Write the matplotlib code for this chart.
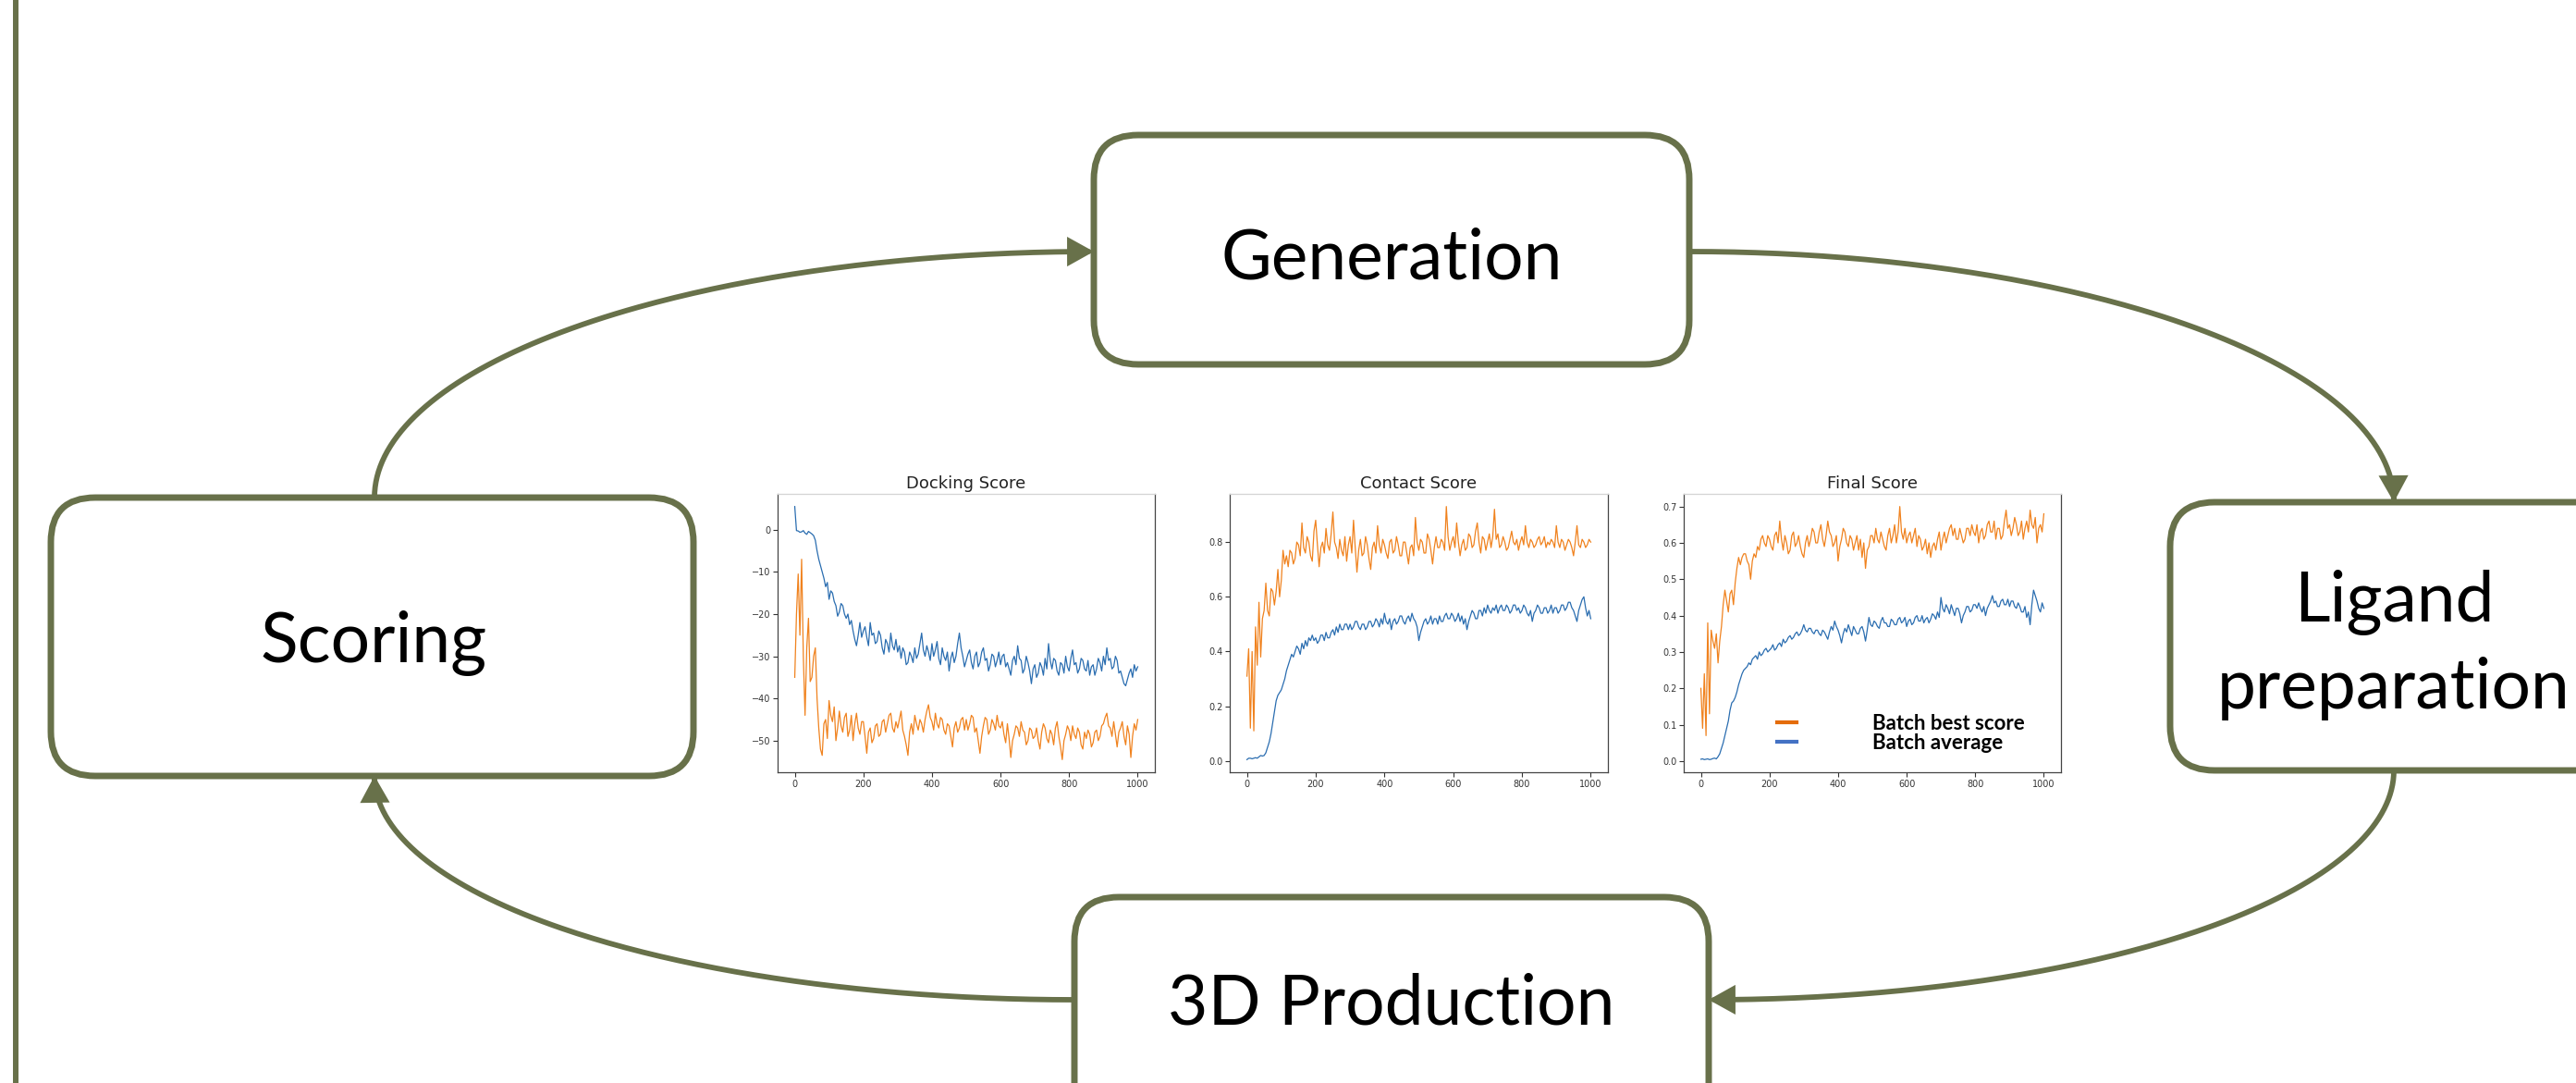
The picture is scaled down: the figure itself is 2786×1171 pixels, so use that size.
import numpy as np
import matplotlib.pyplot as plt
from matplotlib.patches import FancyBboxPatch, FancyArrowPatch
from matplotlib.path import Path
from matplotlib.lines import Line2D

W, H = 2786, 1171
OLIVE = '#68714a'
ORANGE = '#f0821e'
BLUE = '#2a6db0'

# ---- data (one value every 5 steps) ----
steps = np.arange(0, 1001, 5)

docking_avg = [
    5.5, -0.2, -0.3, -0.6, -0.5, -0.2, -0.8, -1.1, -0.4, -0.7,
    -1.0, -1.4, -2.5, -5.0, -7.0, -8.5, -10.0, -11.5, -13.5, -12.5,
    -16.5, -14.5, -15.0, -17.0, -18.0, -20.5, -19.5, -17.5, -18.0, -20.0,
    -21.0, -20.0, -22.5, -21.5, -24.0, -26.0, -27.5, -25.0, -22.0, -25.5,
    -24.0, -23.0, -25.5, -27.5, -22.0, -25.0, -24.5, -27.0, -26.5, -24.0,
    -25.0, -28.0, -29.5, -26.0, -27.0, -29.0, -24.5, -27.5, -28.5, -26.0,
    -29.0, -27.5, -30.5, -28.0, -29.0, -32.0, -31.5, -29.0, -30.0, -31.5,
    -28.0, -30.5, -29.5, -27.0, -24.5, -28.5, -30.0, -27.5, -29.0, -31.0,
    -27.0, -30.0, -28.5, -26.5, -30.5, -32.0, -28.0, -30.0, -31.0, -29.0,
    -33.5, -30.5, -29.0, -31.5, -30.0, -27.0, -24.5, -28.0, -30.0, -32.5,
    -31.0, -29.5, -28.5, -31.5, -33.0, -30.0, -29.0, -32.5, -31.5, -29.0,
    -28.0, -31.0, -30.5, -33.5, -32.0, -29.5, -30.0, -32.5, -31.0, -29.0,
    -32.0, -30.0, -29.5, -32.5, -31.5, -33.0, -34.5, -31.0, -30.0, -32.0,
    -27.5, -30.5, -31.0, -34.0, -33.0, -30.0, -31.5, -33.5, -36.5, -33.0,
    -32.0, -35.0, -34.0, -31.5, -32.5, -34.5, -30.5, -33.0, -27.0, -31.0,
    -33.0, -30.5, -31.0, -33.5, -34.5, -31.5, -32.0, -34.0, -30.0, -32.5,
    -33.5, -30.5, -28.5, -32.0, -31.5, -34.0, -33.0, -30.5, -31.0, -33.0,
    -33.5, -31.0, -34.5, -32.5, -32.0, -34.5, -33.0, -30.5, -31.5, -33.5,
    -30.0, -32.0, -28.0, -31.0, -30.5, -33.0, -32.5, -30.0, -31.0, -34.0,
    -33.5, -35.0, -36.5, -37.0, -35.5, -34.0, -33.0, -35.0, -32.0, -33.5,
    -32.5]
docking_best = [
    -35.0, -20.0, -10.5, -25.0, -7.0, -30.0, -44.0, -28.0, -21.0, -36.0,
    -35.0, -30.0, -28.0, -40.0, -47.0, -52.0, -53.5, -46.0, -45.0, -49.5,
    -40.5, -44.0, -45.5, -42.0, -50.0, -47.0, -43.0, -46.5, -48.0, -44.5,
    -43.5, -49.0, -47.5, -44.0, -50.0, -46.0, -43.5, -47.0, -48.5, -45.5,
    -45.5, -49.0, -53.0, -48.0, -47.0, -50.5, -49.5, -46.5, -46.0, -49.0,
    -48.5, -45.5, -45.0, -48.0, -46.0, -44.0, -43.5, -47.0, -48.0, -45.5,
    -47.0, -45.0, -43.0, -47.5, -49.0, -51.0, -53.5, -48.0, -46.0, -48.5,
    -44.0, -46.0, -47.5, -45.0, -46.0, -48.0, -45.0, -43.0, -41.5, -44.5,
    -45.5, -47.5, -43.5, -46.0, -47.0, -44.5, -45.0, -47.5, -48.5, -46.0,
    -46.5, -49.0, -51.5, -47.0, -45.5, -48.0, -47.0, -45.0, -44.5, -47.5,
    -45.0, -47.5, -46.0, -44.0, -44.5, -48.0, -47.0, -50.0, -53.0, -49.0,
    -46.5, -44.5, -45.0, -48.5, -47.5, -45.0, -46.0, -47.5, -44.0, -46.5,
    -47.0, -45.5, -48.5, -50.5, -46.0, -49.5, -54.0, -50.0, -48.5, -46.5,
    -47.0, -49.0, -45.5, -47.5, -48.0, -51.0, -50.0, -47.0, -47.5, -49.5,
    -49.0, -47.0, -50.0, -52.0, -48.0, -46.0, -47.0, -49.5, -50.5, -47.5,
    -48.5, -51.0, -47.0, -45.5, -49.0, -51.5, -54.5, -50.0, -48.5, -46.5,
    -47.5, -50.0, -46.5, -48.5, -49.5, -47.0, -48.0, -51.0, -52.0, -48.0,
    -49.5, -47.5, -48.5, -51.5, -50.5, -48.0, -47.5, -50.0, -49.0, -46.5,
    -46.0, -44.5, -43.5, -46.5, -47.0, -49.0, -45.5, -48.5, -51.5, -48.0,
    -47.0, -45.5, -49.0, -51.0, -46.5, -48.5, -54.0, -49.0, -46.0, -47.5,
    -45.0]

contact_avg = [
    0.005, 0.01, 0.01, 0.008, 0.01, 0.012, 0.01, 0.015, 0.02, 0.018,
    0.02, 0.03, 0.05, 0.07, 0.10, 0.14, 0.18, 0.22, 0.24, 0.25,
    0.26, 0.28, 0.30, 0.33, 0.35, 0.37, 0.39, 0.38, 0.40, 0.42,
    0.41, 0.39, 0.43, 0.41, 0.44, 0.42, 0.45, 0.44, 0.46, 0.44,
    0.45, 0.43, 0.44, 0.46, 0.46, 0.44, 0.47, 0.45, 0.45, 0.47,
    0.48, 0.46, 0.49, 0.47, 0.50, 0.48, 0.48, 0.50, 0.50, 0.48,
    0.50, 0.48, 0.49, 0.51, 0.51, 0.49, 0.48, 0.50, 0.50, 0.48,
    0.49, 0.51, 0.51, 0.49, 0.50, 0.52, 0.51, 0.49, 0.52, 0.50,
    0.54, 0.51, 0.50, 0.52, 0.48, 0.51, 0.52, 0.50, 0.51, 0.53,
    0.53, 0.51, 0.50, 0.52, 0.53, 0.51, 0.54, 0.52, 0.51, 0.49,
    0.44, 0.47, 0.49, 0.51, 0.52, 0.50, 0.51, 0.53, 0.50, 0.52,
    0.52, 0.50, 0.53, 0.51, 0.51, 0.53, 0.54, 0.52, 0.52, 0.54,
    0.53, 0.51, 0.52, 0.54, 0.51, 0.53, 0.50, 0.52, 0.48, 0.51,
    0.53, 0.55, 0.54, 0.52, 0.52, 0.55, 0.55, 0.53, 0.56, 0.54,
    0.57, 0.55, 0.54, 0.56, 0.55, 0.57, 0.54, 0.56, 0.57, 0.55,
    0.55, 0.57, 0.56, 0.54, 0.55, 0.57, 0.57, 0.55, 0.56, 0.54,
    0.55, 0.57, 0.56, 0.54, 0.53, 0.55, 0.51, 0.54, 0.55, 0.57,
    0.56, 0.54, 0.54, 0.56, 0.56, 0.54, 0.55, 0.57, 0.54, 0.56,
    0.56, 0.54, 0.55, 0.57, 0.57, 0.55, 0.56, 0.58, 0.58, 0.56,
    0.55, 0.53, 0.51, 0.55, 0.57, 0.59, 0.60, 0.56, 0.53, 0.55,
    0.52]
contact_best = [
    0.31, 0.41, 0.12, 0.40, 0.11, 0.49, 0.35, 0.58, 0.38, 0.52,
    0.55, 0.65, 0.55, 0.53, 0.63, 0.62, 0.57, 0.62, 0.70, 0.60,
    0.66, 0.77, 0.72, 0.75, 0.71, 0.77, 0.76, 0.72, 0.74, 0.80,
    0.79, 0.75, 0.87, 0.78, 0.76, 0.82, 0.80, 0.75, 0.73, 0.84,
    0.88, 0.79, 0.71, 0.78, 0.80, 0.76, 0.85, 0.79, 0.77, 0.83,
    0.91, 0.80, 0.78, 0.74, 0.81, 0.77, 0.75, 0.82, 0.73, 0.79,
    0.82, 0.76, 0.88, 0.78, 0.69, 0.77, 0.81, 0.75, 0.76, 0.82,
    0.79, 0.74, 0.70, 0.78, 0.80, 0.76, 0.86, 0.79, 0.76, 0.81,
    0.79, 0.76, 0.74, 0.80, 0.81, 0.76, 0.77, 0.82, 0.79, 0.75,
    0.75, 0.80, 0.80, 0.76, 0.72, 0.78, 0.79, 0.75, 0.89, 0.80,
    0.77, 0.81, 0.80, 0.76, 0.76, 0.83, 0.81, 0.77, 0.72, 0.78,
    0.82, 0.78, 0.78, 0.81, 0.80, 0.77, 0.93, 0.82, 0.77, 0.80,
    0.82, 0.78, 0.87, 0.80, 0.75, 0.79, 0.81, 0.77, 0.78, 0.83,
    0.82, 0.78, 0.79, 0.84, 0.87, 0.80, 0.76, 0.82, 0.81, 0.77,
    0.80, 0.83, 0.78, 0.82, 0.92, 0.81, 0.83, 0.78, 0.79, 0.82,
    0.80, 0.77, 0.78, 0.81, 0.84, 0.80, 0.79, 0.81, 0.77, 0.80,
    0.82, 0.79, 0.86, 0.80, 0.78, 0.81, 0.80, 0.78, 0.79, 0.81,
    0.82, 0.79, 0.80, 0.82, 0.78, 0.80, 0.79, 0.81, 0.80, 0.78,
    0.86, 0.80, 0.78, 0.81, 0.80, 0.77, 0.79, 0.81, 0.80, 0.78,
    0.75, 0.80, 0.86, 0.79, 0.78, 0.81, 0.80, 0.78, 0.79, 0.81,
    0.80]

final_avg = [
    0.005, 0.006, 0.004, 0.005, 0.006, 0.004, 0.005, 0.007, 0.008, 0.006,
    0.012, 0.02, 0.035, 0.05, 0.07, 0.09, 0.11, 0.14, 0.16, 0.165,
    0.175, 0.19, 0.21, 0.225, 0.24, 0.25, 0.255, 0.26, 0.27, 0.265,
    0.28, 0.285, 0.29, 0.28, 0.30, 0.29, 0.295, 0.305, 0.31, 0.30,
    0.305, 0.31, 0.32, 0.305, 0.31, 0.32, 0.325, 0.315, 0.335, 0.325,
    0.33, 0.34, 0.345, 0.335, 0.34, 0.35, 0.355, 0.345, 0.35, 0.36,
    0.375, 0.36, 0.355, 0.365, 0.365, 0.355, 0.35, 0.36, 0.36, 0.35,
    0.345, 0.36, 0.355, 0.345, 0.335, 0.355, 0.37, 0.36, 0.385, 0.37,
    0.36, 0.345, 0.325, 0.35, 0.365, 0.355, 0.375, 0.36, 0.345, 0.37,
    0.36, 0.35, 0.35, 0.365, 0.37, 0.355, 0.33, 0.36, 0.395, 0.375,
    0.37, 0.385, 0.38, 0.37, 0.365, 0.385, 0.395, 0.38, 0.38, 0.37,
    0.37, 0.39, 0.385, 0.375, 0.375, 0.39, 0.395, 0.38, 0.385, 0.395,
    0.37, 0.385, 0.39, 0.375, 0.38, 0.395, 0.40, 0.385, 0.385, 0.40,
    0.38, 0.39, 0.395, 0.38, 0.39, 0.405, 0.40, 0.39, 0.41, 0.395,
    0.45, 0.42, 0.41, 0.43, 0.42, 0.405, 0.43, 0.415, 0.40, 0.42,
    0.42, 0.405, 0.38, 0.40, 0.41, 0.425, 0.425, 0.41, 0.415, 0.43,
    0.43, 0.42, 0.435, 0.42, 0.41, 0.425, 0.40, 0.42, 0.43, 0.44,
    0.455, 0.435, 0.44, 0.425, 0.425, 0.44, 0.445, 0.43, 0.43, 0.445,
    0.425, 0.44, 0.44, 0.425, 0.42, 0.435, 0.425, 0.41, 0.41, 0.425,
    0.395, 0.41, 0.375, 0.43, 0.47, 0.455, 0.44, 0.42, 0.41, 0.435,
    0.42]
final_best = [
    0.20, 0.09, 0.24, 0.07, 0.38, 0.13, 0.36, 0.33, 0.31, 0.35,
    0.27, 0.33, 0.37, 0.43, 0.47, 0.44, 0.41, 0.46, 0.47, 0.43,
    0.49, 0.53, 0.56, 0.54, 0.56, 0.57, 0.57, 0.55, 0.54, 0.50,
    0.55, 0.57, 0.56, 0.59, 0.58, 0.61, 0.62, 0.60, 0.59, 0.62,
    0.61, 0.59, 0.58, 0.62, 0.63, 0.60, 0.66, 0.61, 0.58, 0.62,
    0.60, 0.57, 0.58, 0.62, 0.63, 0.59, 0.60, 0.62, 0.59, 0.57,
    0.56, 0.60, 0.62, 0.59, 0.61, 0.64, 0.63, 0.60, 0.60, 0.63,
    0.65, 0.61, 0.59, 0.62, 0.66, 0.63, 0.62, 0.59, 0.60, 0.62,
    0.55, 0.59, 0.61, 0.64, 0.63, 0.60, 0.59, 0.62, 0.61, 0.58,
    0.60, 0.62, 0.58, 0.61, 0.56, 0.60, 0.53, 0.58, 0.59, 0.62,
    0.62, 0.60, 0.64, 0.61, 0.60, 0.63, 0.61, 0.59, 0.58, 0.62,
    0.64, 0.60, 0.62, 0.65, 0.60, 0.63, 0.70, 0.63, 0.61, 0.64,
    0.60, 0.62, 0.63, 0.60, 0.62, 0.64, 0.59, 0.62, 0.61, 0.58,
    0.59, 0.61, 0.57, 0.60, 0.56, 0.59, 0.60, 0.58, 0.61, 0.63,
    0.58, 0.61, 0.63, 0.60, 0.62, 0.64, 0.65, 0.62, 0.64, 0.61,
    0.61, 0.64, 0.62, 0.60, 0.61, 0.64, 0.64, 0.62, 0.65, 0.63,
    0.62, 0.65, 0.60, 0.63, 0.64, 0.61, 0.62, 0.65, 0.66, 0.63,
    0.63, 0.66, 0.61, 0.64, 0.64, 0.61, 0.62, 0.66, 0.69, 0.64,
    0.65, 0.62, 0.64, 0.67, 0.65, 0.62, 0.63, 0.66, 0.61, 0.64,
    0.66, 0.63, 0.69, 0.65, 0.64, 0.67, 0.60, 0.64, 0.65, 0.63,
    0.68]

panel_titles = ['Docking Score', 'Contact Score', 'Final Score']
xticks = [0, 200, 400, 600, 800, 1000]
docking_yticks = [0, -10, -20, -30, -40, -50]
contact_yticks = [0.0, 0.2, 0.4, 0.6, 0.8]
final_yticks = [0.0, 0.1, 0.2, 0.3, 0.4, 0.5, 0.6, 0.7]
series_labels = ['Batch best score', 'Batch average']

# ---- diagram layout, in pixels (y down) ----
boxes = {
    'Generation': (1183, 146, 1827, 394),
    'Scoring': (55, 538, 750, 839),
    'Ligand': (2347, 543, 2950, 833),
    '3D': (1162, 970, 1848, 1260),
}
labels = [('Generation', 1505, 302), ('Scoring', 404, 716),
          ('Ligand', 2589, 672), ('preparation', 2589, 766),
          ('3D Production', 1505, 1108)]
# (start, end, direction of the line where it leaves the start box)
arrows = [((405, 538), (1183, 272), 'v'),
          ((1827, 272), (2589, 543), 'h'),
          ((2589, 833), (1848, 1081), 'v'),
          ((1162, 1081), (405, 839), 'h')]
panel_px = [(841, 534, 1249, 835), (1330, 534, 1739, 835),
            (1821, 534, 2229, 835)]


def quarter_path(start, end, kind):
    sx, sy = start
    ex, ey = end
    cx, cy = (ex, sy) if kind == 'v' else (sx, ey)
    t = np.linspace(0, np.pi / 2, 150)
    xs = cx + (sx - cx) * np.cos(t) + (ex - cx) * np.sin(t)
    ys = cy + (sy - cy) * np.cos(t) + (ey - cy) * np.sin(t)
    return Path(np.column_stack([xs, ys]))


fig = plt.figure(figsize=(W / 100, H / 100), dpi=100)
bg = fig.add_axes([0, 0, 1, 1])
bg.set_xlim(0, W)
bg.set_ylim(H, 0)
bg.axis('off')

bg.plot([17, 17], [0, H], color=OLIVE, lw=4.3, solid_capstyle='butt')

for x0, y0, x1, y1 in boxes.values():
    bg.add_patch(FancyBboxPatch((x0, y0), x1 - x0, y1 - y0,
                                boxstyle='round,pad=0,rounding_size=48',
                                fc='white', ec=OLIVE, lw=5.0))

for txt, x, y in labels:
    bg.text(x, y, txt, ha='center', va='baseline', family='Lato',
            fontsize=54, color='black')

for start, end, kind in arrows:
    bg.add_patch(FancyArrowPatch(path=quarter_path(start, end, kind),
                                 arrowstyle='-|>,head_length=0.9,head_width=0.5',
                                 mutation_scale=16, lw=4.2, color=OLIVE,
                                 joinstyle='miter'))

# ---- the three small training plots ----
panels = [(docking_best, docking_avg, docking_yticks),
          (contact_best, contact_avg, contact_yticks),
          (final_best, final_avg, final_yticks)]

axes = []
for (x0, y0, x1, y1), title, (best, avg, yt) in zip(panel_px, panel_titles, panels):
    ax = fig.add_axes([x0 / W, (H - y1) / H, (x1 - x0) / W, (y1 - y0) / H])
    ax.plot(steps, avg, color=BLUE, lw=0.9)
    ax.plot(steps, best, color=ORANGE, lw=0.9)
    ax.set_xticks(xticks)
    ax.set_yticks(yt)
    ax.tick_params(labelsize=7, length=3.5, width=0.8, colors='#333333', pad=2)
    for side, sp in ax.spines.items():
        sp.set_color('#d4d4d4' if side == 'top' else '#444444')
        sp.set_linewidth(0.9)
    ax.set_title(title, fontsize=13, pad=4, color='#222222')
    axes.append(ax)

handles = [Line2D([], [], color='#e46c0a', lw=3),
           Line2D([], [], color='#4472c4', lw=3)]
axes[2].legend(handles, series_labels, loc='lower left',
               bbox_to_anchor=(0.2475, 0.07), frameon=False,
               prop=dict(family='Lato', weight='bold', size=16),
               handlelength=0.95, handletextpad=3.7, labelspacing=0.0,
               borderpad=0, borderaxespad=0)

fig.savefig('out.png', dpi=100)
